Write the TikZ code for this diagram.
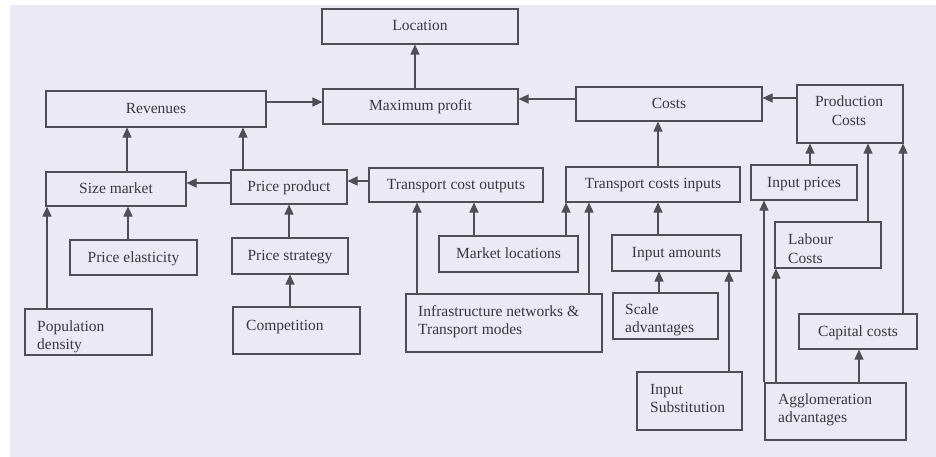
\documentclass[tikz,border=0pt]{standalone}
\usepackage{fontspec}
\setmainfont{Liberation Serif}
\usetikzlibrary{arrows.meta}
\definecolor{bgc}{HTML}{EAE9F4}
\definecolor{ink}{HTML}{38383E}
\definecolor{edgec}{HTML}{4E4E55}
\newcommand{\twoL}[2]{\begin{tabular}[t]{@{}l@{}}#1\\#2\end{tabular}}
\newcommand{\twoC}[2]{\begin{tabular}[t]{@{}c@{}}#1\\#2\end{tabular}}
\begin{document}
\begin{tikzpicture}[x=1pt,y=-1pt,
  box/.style={draw=edgec, line width=1.1pt, inner sep=0pt, text=ink,
    font=\fontsize{15.5}{18.5}\selectfont, text height=10pt, text depth=1pt},
  txt/.style={inner sep=0pt, text=ink, font=\fontsize{15.5}{18.5}\selectfont, anchor=base west},
  ctxt/.style={inner sep=0pt, text=ink, font=\fontsize{15.5}{18.5}\selectfont, anchor=base},
  arr/.style={draw=edgec, line width=1.1pt, -{Triangle[length=10pt,width=9pt]}}]
\fill[white] (0,0) rectangle (936,457);
\fill[bgc] (10,5) rectangle (936,457);
\useasboundingbox (0,0) rectangle (936,457);

% boxes
\node[box, minimum width=196pt, minimum height=35pt] (loc) at (420,26.5) {Location};
\node[box, minimum width=220pt, minimum height=36pt] (rev) at (156,109) {Revenues};
\node[box, minimum width=195pt, minimum height=35pt] (maxp) at (420.5,106.5) {Maximum profit};
\node[box, minimum width=186pt, minimum height=34pt] (costs) at (669,104) {Costs};
\node[box, minimum width=106pt, minimum height=58pt] (prod) at (850,114) {};
\node[box, minimum width=140pt, minimum height=34pt] (sizem) at (116,189) {Size market};
\node[box, minimum width=116pt, minimum height=34pt] (pricep) at (289,187) {Price product};
\node[box, minimum width=174pt, minimum height=34pt] (tco) at (456,185) {Transport cost outputs};
\node[box, minimum width=174pt, minimum height=35pt] (tci) at (653,184.5) {Transport costs inputs};
\node[box, minimum width=106pt, minimum height=35pt] (inpp) at (804,182.5) {Input prices};
\node[box, minimum width=127pt, minimum height=35pt] (pel) at (133.5,257.5) {Price elasticity};
\node[box, minimum width=116pt, minimum height=36pt] (pstr) at (290,256) {Price strategy};
\node[box, minimum width=139pt, minimum height=36pt] (mloc) at (508.5,254) {Market locations};
\node[box, minimum width=129pt, minimum height=36pt] (inam) at (676.5,253) {Input amounts};
\node[box, minimum width=106pt, minimum height=46pt] (lab) at (828,245) {};
\node[box, minimum width=127pt, minimum height=46pt] (pop) at (88.5,332) {};
\node[box, minimum width=127pt, minimum height=47pt] (comp) at (296.5,330.5) {};
\node[box, minimum width=196pt, minimum height=58pt] (infra) at (504,323) {};
\node[box, minimum width=105pt, minimum height=46pt] (scale) at (665.5,316) {};
\node[box, minimum width=118pt, minimum height=35pt] (capc) at (858,331.5) {Capital costs};
\node[box, minimum width=105pt, minimum height=58pt] (insub) at (689.5,401) {};
\node[box, minimum width=141pt, minimum height=57pt] (aggl) at (835.5,411.5) {};

% offset texts
\node[ctxt] (prodt) at (849,107) {\twoC{Production}{Costs}};
\node[txt] (labt) at (788,244.5) {\twoL{Labour}{Costs}};
\node[txt] (popt) at (37,331) {\twoL{Population}{density}};
\node[txt] (compt) at (246,330) {Competition};
\node[txt] (infrat) at (418,316) {\twoL{Infrastructure networks \&}{Transport modes}};
\node[txt] (scalet) at (625,314) {\twoL{Scale}{advantages}};
\node[txt] (insubt) at (650,394) {\twoL{Input}{Substitution}};
\node[txt] (agglt) at (778,404) {\twoL{Agglomeration}{advantages}};

% connectors
\draw[arr] (maxp.north -| 415,0) -- (loc.south -| 415,0);
\draw[arr] (rev.east |- 0,102) -- (maxp.west |- 0,102);
\draw[arr] (costs.west |- 0,99) -- (maxp.east |- 0,99);
\draw[arr] (prod.west |- 0,98) -- (costs.east |- 0,98);
\draw[arr] (sizem.north -| 127,0) -- (rev.south -| 127,0);
\draw[arr] (pricep.north -| 243,0) -- (rev.south -| 243,0);
\draw[arr] (pricep.west |- 0,183) -- (sizem.east |- 0,183);
\draw[arr] (tco.west |- 0,181) -- (pricep.east |- 0,181);
\draw[arr] (pel.north -| 128,0) -- (sizem.south -| 128,0);
\draw[arr] (pop.north -| 47,0) -- (sizem.south -| 47,0);
\draw[arr] (pstr.north -| 289,0) -- (pricep.south -| 289,0);
\draw[arr] (comp.north -| 290,0) -- (pstr.south -| 290,0);
\draw[arr] (infra.north -| 417,0) -- (tco.south -| 417,0);
\draw[arr] (mloc.north -| 474,0) -- (tco.south -| 474,0);
\draw[arr] (mloc.north -| 566,0) -- (tci.south -| 566,0);
\draw[arr] (infra.north -| 589,0) -- (tci.south -| 589,0);
\draw[arr] (tci.north -| 658,0) -- (costs.south -| 658,0);
\draw[arr] (inam.north -| 658,0) -- (tci.south -| 658,0);
\draw[arr] (scale.north -| 659,0) -- (inam.south -| 659,0);
\draw[arr] (insub.north -| 729,0) -- (inam.south -| 729,0);
\draw[arr] (inpp.north -| 810,0) -- (prod.south -| 810,0);
\draw[arr] (lab.north -| 868,0) -- (prod.south -| 868,0);
\draw[arr] (capc.north -| 903,0) -- (prod.south -| 903,0);
\draw[arr] (aggl.north -| 859,0) -- (capc.south -| 859,0);
\draw[arr] (aggl.north -| 776,0) -- (lab.south -| 776,0);
\draw[arr] (aggl.north -| 764,0) -- (inpp.south -| 764,0);
\end{tikzpicture}
\end{document}
